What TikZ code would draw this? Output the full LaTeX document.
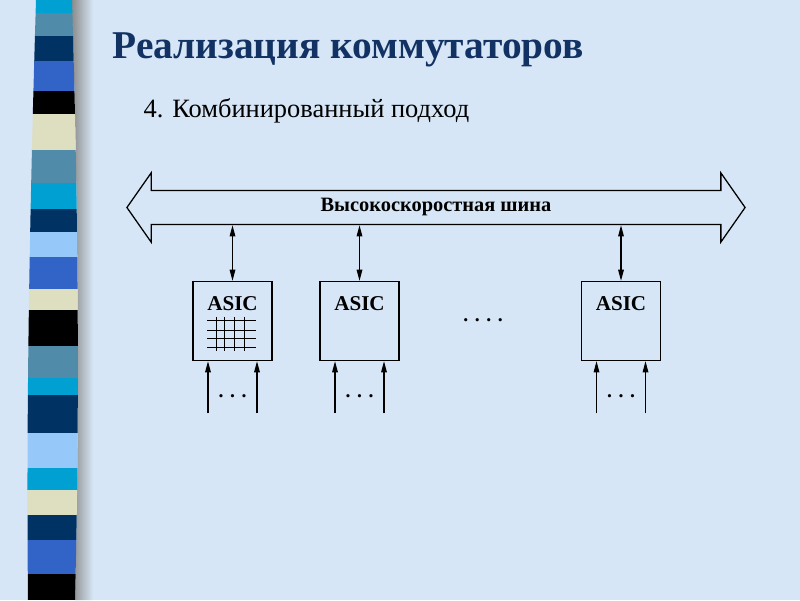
\documentclass[tikz,border=0pt]{standalone}
\usepackage{fontspec}
\setmainfont{Liberation Serif}
\usepackage{xcolor}
\usepackage{tikz}
\usetikzlibrary{arrows.meta,positioning,calc,shapes.arrows}

\definecolor{slidebg}{RGB}{214,230,246}
\definecolor{titleblue}{RGB}{18,50,100}
\definecolor{stcyan}{RGB}{0,160,210}
\definecolor{ststeel}{RGB}{80,140,170}
\definecolor{stnavy}{RGB}{0,50,100}
\definecolor{stroyal}{RGB}{50,100,200}
\definecolor{stpale}{RGB}{222,222,192}
\definecolor{stlight}{RGB}{150,200,250}

\begin{document}
\begin{tikzpicture}[x=0.025cm,y=-0.025cm,line width=0.9pt,
    asicbox/.style={draw,minimum size=1.975cm,inner sep=0pt},
    chiplabel/.style={inner sep=0pt,font=\fontsize{15}{15}\selectfont\bfseries},
    busarrow/.style={draw,double arrow,double arrow tip angle=110,
      double arrow head extend=0.4375cm,minimum height=15.45cm,
      text height=8pt,text depth=2pt,inner ysep=6.7pt,inner xsep=0pt,
      font=\fontsize{14.5}{14.5}\selectfont\bfseries},
    link/.style={{Triangle[length=8pt,width=4pt]}-{Triangle[length=8pt,width=4pt]}},
    feed/.style={-{Triangle[length=8pt,width=4pt]}},
    dots/.style={font=\fontsize{14}{14}\selectfont\bfseries}]
  \useasboundingbox (0,0) rectangle (800,600);
  \fill[slidebg] (0,0) rectangle (800,600);
  % striped bar on the left
  \shade[left color=black!45,right color=slidebg]
    (72,0) .. controls (78,200) and (80,400) .. (75,600) -- (93,600) -- (93,0) -- cycle;
  \begin{scope}
    \clip (36,0) .. controls (30,200) and (26,400) .. (28,600) -- (75,600)
      .. controls (80,400) and (78,200) .. (72,0) -- cycle;
    \foreach \ya/\yb/\c in {0/13/stcyan,13/36/ststeel,36/61/stnavy,61/91/stroyal,
        91/114/black,114/150/stpale,150/183/ststeel,183/209/stcyan,209/232/stnavy,
        232/257/stlight,257/289/stroyal,289/310/stpale,310/346/black,346/378/ststeel,
        378/395/stcyan,395/433/stnavy,433/468/stlight,468/490/stcyan,490/515/stpale,
        515/540/stnavy,540/574/stroyal,574/600/black}
      \fill[\c] (20,\ya) rectangle (90,\yb);
  \end{scope}

  \node[anchor=base west,inner sep=0pt,text=titleblue,font=\fontsize{28}{28}\selectfont\bfseries]
    (title) at (112,58) {Реализация коммутаторов};
  \node[anchor=base west,inner sep=0pt,font=\fontsize{18.8}{18.8}\selectfont]
    (subtitle) at (143,117) {4. Комбинированный подход};

  \node[busarrow] (bus) at (436,207.5) {Высокоскоростная шина};

  \node[asicbox] (asic1) at (232.5,321) {};
  \node[asicbox] (asic2) at (359.5,321) {};
  \node[asicbox] (asic3) at (621,321) {};
  \foreach \i in {1,2,3} {
    \node[chiplabel,below=11pt of asic\i.north] (lab\i) {ASIC};
    \draw[link] (bus.south -| asic\i.north) -- (asic\i.north);
    \coordinate (inl\i) at ($(asic\i.south)+(-24.5,52)$);
    \coordinate (inr\i) at ($(asic\i.south)+(24.5,52)$);
    \draw[feed] (inl\i) -- (inl\i |- asic\i.south);
    \draw[feed] (inr\i) -- (inr\i |- asic\i.south);
    \node[dots] (dots\i) at ($(asic\i.south)+(0,35)$) {. . .};
  }
  % switching matrix inside the first chip
  \begin{scope}[shift={(asic1)},line width=0.7pt]
    \foreach \dy in {-1,9,17,26} \draw (-25.5,\dy) -- (23.5,\dy);
    \foreach \dx in {-16.5,-8.5,1.5,11.5} \draw (\dx,-4) -- (\dx,30);
  \end{scope}
  \node[dots] (middots) at (483,320) {. . . .};
\end{tikzpicture}
\end{document}
